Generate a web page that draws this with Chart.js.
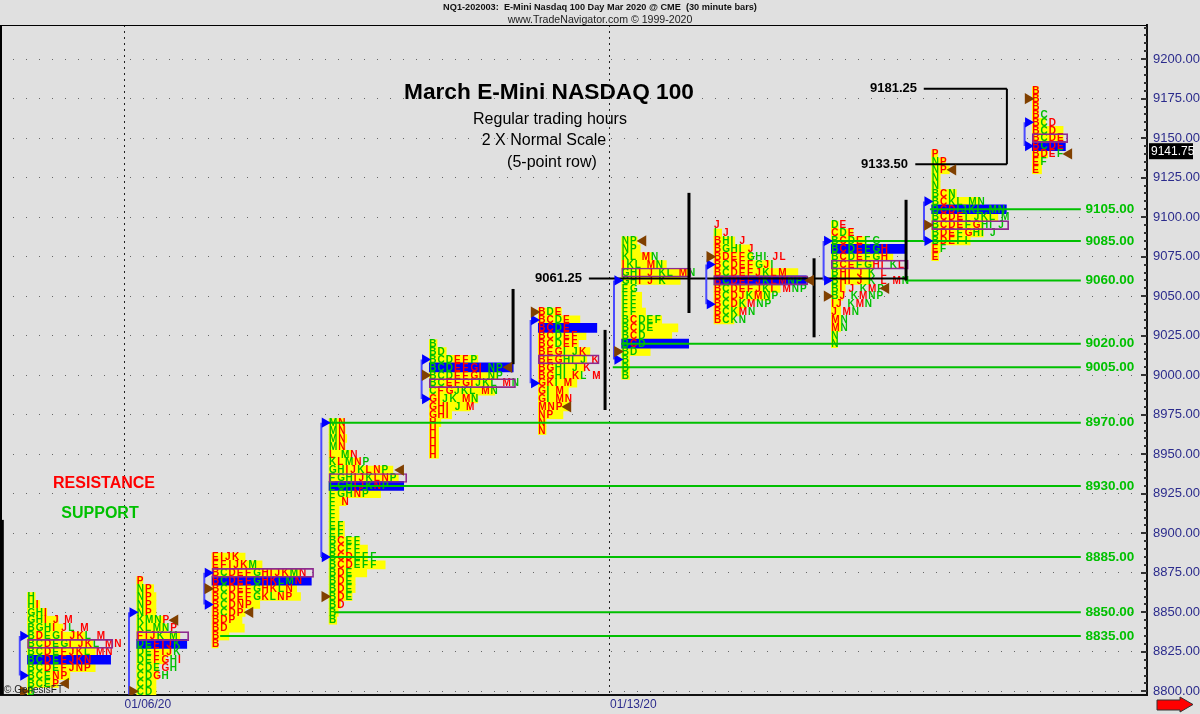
<!DOCTYPE html>
<html>
<head>
<meta charset="utf-8">
<title>March E-Mini NASDAQ 100</title>
<script src="https://cdn.jsdelivr.net/npm/chart.js@4"></script>
<style>
  html, body { margin: 0; padding: 0; background: #e0e0e0; }
  canvas { display: block; }
</style>
</head>
<body>
<canvas id="chart" width="1200" height="714"></canvas>
<script>
// x axis runs in profile columns, y axis in index points
const priceTicks = [8800, 8825, 8850, 8875, 8900, 8925, 8950, 8975, 9000, 9025, 9050, 9075, 9100, 9125, 9150, 9175, 9200];
const dateCols = [16.17, 79.24];
const dateLabels = ['01/06/20', '01/13/20'];

const sessionCols = [3.57, 17.76, 27.54, 42.74, 55.77, 69.93, 80.76, 92.75, 107.99, 121.03, 134.1];
const sessionTops = [8860, 8870, 8885, 8970, 9020, 9040, 9085, 9095, 9095, 9140, 9180];
const sessionRed = ['DFIJKMNP', 'FGIJP', 'BDEFHIJKNP', 'CDIJLN', 'EFGHIM', 'BCEFGKMNP', 'CIJM', 'BDEFJLM', 'CEHIJLM', 'CDEGP', 'BDE'];

const rows0 = ['H', 'HI', 'GHI', 'GHI J M', 'BGHI JL M', 'BDEGI JKL M', 'BCDEGI JKL MN', 'BCDEFJKL MN', 'BCDEFJKN', 'BCDEFJNP', 'BCENP', 'BCEP', 'B'];
const fill0 = [1, 1.6, 2.5, 4, 4.6, 7.5, 8.5, 8.8, 9, 8.8, 5.5, 4, 0.5];
const rows1 = ['P', 'NP', 'NP', 'NP', 'NP', 'KMNP', 'KLMNP', 'FIJK M', 'DEFIJK', 'DEFIJK', 'DEFGHI', 'CDEGH', 'CDGH', 'CD', 'CD'];
const fill1 = [0.8, 2.2, 2.5, 2.5, 2.5, 3.5, 3.9, 5.6, 5.5, 4.5, 3.7, 2.8, 2.8, 2.5, 2.5];
const rows2 = ['EIJK', 'EFIJKM', 'BCDEFGHIJKMN', 'BCDEFGHKLMN', 'BCDEFGHKLN', 'BCDEFGKLNP', 'BCDNP', 'BCDP', 'BDP', 'BD', 'B', 'B'];
const fill2 = [4.3, 6.5, 11.4, 11, 11, 11.5, 6.2, 4.3, 3.9, 4.2, 2.2, 0.8];
const rows3 = ['MN', 'MN', 'MN', 'MN', 'L MN', 'KLMNP', 'GHIJKLNP', 'FGHIJKLNP', 'FGHIJKNP', 'FGHNP', 'F N', 'F', 'F', 'EF', 'EF', 'BCEF', 'BCFF', 'BCDEFF', 'BCDEFF', 'BDE', 'BDE', 'BDE', 'BDE', 'BD', 'B', 'B'];
const fill3 = [2, 2.1, 2.3, 2.1, 2.9, 4, 8.3, 9, 9, 6.7, 2.2, 1.3, 1.3, 2, 2, 4, 5, 5, 7.3, 4.9, 3.4, 3.4, 3, 1.5, 1.2, 1];
const rows4 = ['B', 'BD', 'BCDEFP', 'BCDEFGI NP', 'BCDEFGI NP', 'BCEFGIJKL MN', 'CFGJKL MN', 'GIJK MN', 'GHI J M', 'GHI', 'H', 'H', 'H', 'H', 'H'];
const fill4 = [1, 2.2, 6.3, 8.8, 8.8, 8, 8.5, 6.3, 5.3, 2.9, 1.5, 1.2, 1.2, 1.2, 1.2];
const rows5 = ['BDE', 'BCDE', 'BCDE', 'BCDEF', 'BCDEF', 'BEGI JK', 'BEGHI J K', 'BGHI J K', 'BGHI KL M', 'GKI M', 'GI M', 'GI MN', 'MNP', 'NP', 'N', 'N'];
const fill5 = [3, 5.4, 5.4, 6.2, 5.2, 6.7, 6.3, 6, 5.6, 5, 3.9, 3.9, 4, 3.2, 1, 1];
const rows6 = ['NP', 'NP', 'KL MN', 'IKL MN', 'GHI J KL MN', 'GHI J K', 'FG', 'FF', 'FF', 'FF', 'BCDEF', 'BCDE', 'BCD', 'BCD', 'BD', 'B', 'B', 'B'];
const fill6 = [2, 2.4, 4, 5.8, 8.9, 7.6, 1.7, 2.6, 2.6, 3.1, 5.2, 7.3, 6.5, 6.5, 3.7, 1, 1, 1];
const rows7 = ['J', 'I J', 'BHI J', 'BGHI J', 'BDEFGHI JL', 'BCDEFGJI', 'BCDEFJKLM', 'BCDEFJKLMNP', 'BCDEFJKL MNP', 'BCDJKMNP', 'BCDKMNP', 'BCKMN', 'BCKN'];
const fill7 = [0, 1, 2.7, 4.7, 5, 7.3, 10.9, 10.9, 8.6, 7.3, 4.2, 3.4, 2.6];
const rows8 = ['DE', 'CDE', 'BCDEFG', 'BCDEFGH', 'BCDEFGH', 'BCEFGHI KL', 'BHI J K L', 'BHI J K L MN', 'BI J KMP', 'BJ KMNP', 'IJ KMN', 'J MN', 'MN', 'MN', 'N', 'N'];
const fill8 = [0.9, 2.8, 4.4, 8, 8, 5.4, 5.2, 5, 1.8, 1.5, 1.2, 1.2, 1.2, 1.2, 0.8, 0.8];
const rows9 = ['P', 'NP', 'NP', 'N', 'N', 'BCN', 'BCKL MN', 'BCDIJKL MN', 'BCDEI JKL M', 'BCDEFGHI J', 'BDEFGHI J', 'BDEFI', 'EF', 'E'];
const fill9 = [0.8, 1.8, 2.3, 1.1, 1.1, 3.2, 6.3, 8, 8.6, 6.7, 6.7, 5, 1.1, 0.9];
const rows10 = ['B', 'B', 'B', 'BC', 'BCD', 'BCD', 'BCDE', 'BCDE', 'BDEF', 'EF', 'E'];
const fill10 = [0.8, 0.8, 0.8, 0.8, 1.7, 4, 4, 4, 2, 1.2, 1.2];
const sessionRows = [rows0, rows1, rows2, rows3, rows4, rows5, rows6, rows7, rows8, rows9, rows10];
const sessionFill = [fill0, fill1, fill2, fill3, fill4, fill5, fill6, fill7, fill8, fill9, fill10];

const pocPrices = [8820, 8830, 8870, 8930, 9005, 9030, 9020, 9060, 9080, 9105, 9145];
const pocWidths = [10.8, 6.5, 12.9, 9.7, 10.9, 7.6, 8.7, 12, 9.7, 9.7, 4.3];
const boxPrices = [8830, 8835, 8875, 8935, 8995, 9010, 9065, 9060, 9070, 9095, 9150];
const boxWidths = [11.1, 6.75, 13.2, 10.1, 11.2, 7.9, 9, 12.2, 10, 10, 4.6];
const vaHigh = [8835, 8850, 8875, 8970, 9010, 9035, 9060, 9070, 9085, 9110, 9160];
const vaLow = [8810, 8798, 8855, 8885, 8985, 8995, 9010, 9045, 9060, 9085, 9145];

// brown markers, left side of a profile and right side of it
const openPrices = [8800, 8800, 8865, 8860, 9000, 9040, 9015, 9075, 9050, 9095, 9175];
const closePrices = [8805, 8845, 8850, 8940, 9005, 8980, 9085, 9060, 9055, 9130, 9140];
const closeCols = [8.53, 22.73, 32.48, 52.05, 66.12, 73.78, 83.53, 105.31, 115.09, 123.79, 138.85];

const supportPrices = [8835, 8850, 8885, 8930, 8970, 9005, 9020, 9060, 9085, 9105];
const supportStart = [28.6, 43.5, 41.7, 42.9, 42.5, 79.6, 80.7, 117.7, 108, 120.8];
const supportEnd = 140.4;
const rangeCols = [0.3, 66.65, 78.6, 89.5, 105.75, 117.7];
const rangeHigh = [8908.5, 9054.6, 9028.7, 9115.4, 9074, 9111];
const rangeLow = [8797.7, 9007, 8978, 9039.4, 9024, 9060];
const lastPrice = 9141.75;

const letterWidth = { I: 0.62, J: 0.92, L: 1.0, M: 1.2, ' ': 0.55 };
const RED = '#ff0000';
const GREEN = '#00c000';
const FONT = '"Liberation Sans", Arial, sans-serif';

const yellowBars = [];
const letters = [];
sessionRows.forEach((rows, s) => {
  rows.forEach((row, r) => {
    const price = sessionTops[s] - r * 5;
    if (sessionFill[s][r] > 0) {
      yellowBars.push({ x: [sessionCols[s], sessionCols[s] + sessionFill[s][r]], y: price });
    }
    let col = sessionCols[s];
    for (const ch of row) {
      if (ch !== ' ') {
        letters.push({ x: col, y: price, t: ch, c: sessionRed[s].includes(ch) ? RED : GREEN });
      }
      col += letterWidth[ch] || 1.07;
    }
  });
});

function rowBars(prices, widths) {
  return prices.map((p, s) => ({ x: [sessionCols[s], sessionCols[s] + widths[s]], y: p }));
}

function segment(x0, y0, x1, y1, color, width, order) {
  return {
    type: 'scatter', showLine: true, order: order, pointRadius: 0,
    borderColor: color, borderWidth: width,
    data: [{ x: x0, y: y0 }, { x: x1, y: y1 }],
  };
}

const datasets = [
  {
    type: 'bar', indexAxis: 'y', grouped: false, order: 9, barThickness: 8,
    backgroundColor: '#ffff00', data: yellowBars,
  },
  {
    type: 'bar', indexAxis: 'y', grouped: false, order: 8, barThickness: 9,
    backgroundColor: '#0000ff', data: rowBars(pocPrices, pocWidths),
  },
  { id: 'letters', type: 'scatter', order: 7, pointRadius: 0, data: letters },
  {
    type: 'bar', indexAxis: 'y', grouped: false, order: 6, barThickness: 9,
    backgroundColor: 'rgba(0,0,0,0)', borderColor: '#8e2a8e', borderWidth: 1, borderSkipped: false,
    data: rowBars(boxPrices, boxWidths),
  },
];

supportPrices.forEach((p, i) => {
  datasets.push(segment(supportStart[i], p, supportEnd, p, '#00c000', 2, 5));
});
rangeCols.forEach((c, i) => {
  datasets.push(segment(c, rangeLow[i], c, rangeHigh[i], '#000000', 3, 4));
});
datasets.push(segment(76.5, 9061.25, 117.8, 9061.25, '#000000', 2, 4));
datasets.push(segment(120, 9181.25, 130.8, 9181.25, '#000000', 2, 4));
datasets.push(segment(118.9, 9133.5, 130.8, 9133.5, '#000000', 2, 4));
datasets.push(segment(130.8, 9181.25, 130.8, 9133.5, '#000000', 2, 4));
sessionCols.forEach((c, i) => {
  datasets.push(segment(c - 1, vaHigh[i], c - 1, vaLow[i], '#4a4aff', 2, 3));
});
datasets.push({
  type: 'scatter', order: 2, pointStyle: 'triangle', pointRotation: 90, pointRadius: 6,
  pointBackgroundColor: '#0000ff', pointBorderWidth: 0,
  data: vaHigh.map((p, i) => ({ x: sessionCols[i] - 0.55, y: p }))
    .concat(vaLow.map((p, i) => ({ x: sessionCols[i] - 0.55, y: p })).filter((d, i) => i !== 1)),
});
datasets.push({
  type: 'scatter', order: 1, pointStyle: 'triangle', pointRotation: 90, pointRadius: 6.5,
  pointBackgroundColor: '#804000', pointBorderWidth: 0,
  data: openPrices.map((p, i) => ({ x: sessionCols[i] - 0.55, y: p })),
});
datasets.push({
  type: 'scatter', order: 1, pointStyle: 'triangle', pointRotation: -90, pointRadius: 6.5,
  pointBackgroundColor: '#804000', pointBorderWidth: 0,
  data: closePrices.map((p, i) => ({ x: closeCols[i], y: p })),
});

function text(ctx, str, x, y, font, color, align) {
  ctx.font = font;
  ctx.fillStyle = color;
  ctx.textAlign = align || 'left';
  ctx.textBaseline = 'middle';
  ctx.fillText(str, x, y);
}

const profilePlugin = {
  id: 'profile',
  beforeDraw(chart) {
    const { ctx, width, height } = chart;
    ctx.save();
    ctx.fillStyle = '#e0e0e0';
    ctx.fillRect(0, 0, width, height);
    ctx.restore();
  },
  afterDatasetDraw(chart, args) {
    if (chart.data.datasets[args.index].id !== 'letters') return;
    const ctx = chart.ctx;
    ctx.save();
    args.meta.data.forEach((pt, i) => {
      const d = letters[i];
      text(ctx, d.t, pt.x, pt.y + 0.5, 'bold 10px ' + FONT, d.c);
    });
    ctx.restore();
  },
  afterDraw(chart) {
    const { ctx, chartArea, scales } = chart;
    const y = scales.y;
    const x = scales.x;
    ctx.save();

    // frame
    ctx.fillStyle = '#000000';
    ctx.fillRect(0, 25, chartArea.right, 1);
    ctx.fillRect(0, 25, 2, chartArea.bottom - 25);

    // ticks sit inside the plot on the price axis
    ctx.fillStyle = '#333333';
    for (let p = 8800; p <= 9220; p += 5) {
      const len = p % 25 === 0 ? 6 : 3;
      ctx.fillRect(chartArea.right - len, Math.round(y.getPixelForValue(p)) - 1, len, 2);
    }

    // support and resistance labels
    supportPrices.forEach((p) => {
      text(ctx, p.toFixed(2), x.getPixelForValue(141), y.getPixelForValue(p), 'bold 13.5px ' + FONT, '#00c000');
    });
    text(ctx, '9181.25', 870, y.getPixelForValue(9181.25), 'bold 13px ' + FONT, '#000000');
    text(ctx, '9133.50', 861, y.getPixelForValue(9133.5), 'bold 13px ' + FONT, '#000000');
    text(ctx, '9061.25', 535, y.getPixelForValue(9061.25), 'bold 13px ' + FONT, '#000000');

    // header and notes
    text(ctx, 'NQ1-202003:  E-Mini Nasdaq 100 Day Mar 2020 @ CME  (30 minute bars)', 600, 7, 'bold 9.2px ' + FONT, '#111111', 'center');
    text(ctx, 'www.TradeNavigator.com © 1999-2020', 600, 20, '10.6px ' + FONT, '#222222', 'center');
    text(ctx, 'March E-Mini NASDAQ 100', 549, 93, 'bold 22.7px ' + FONT, '#000000', 'center');
    text(ctx, 'Regular trading hours', 550, 120, '16px ' + FONT, '#000000', 'center');
    text(ctx, '2 X Normal Scale', 544, 141, '16px ' + FONT, '#000000', 'center');
    text(ctx, '(5-point row)', 552, 163, '16px ' + FONT, '#000000', 'center');
    text(ctx, 'RESISTANCE', 104, 484, 'bold 16px ' + FONT, '#ff0000', 'center');
    text(ctx, 'SUPPORT', 100, 514, 'bold 16px ' + FONT, '#00c000', 'center');
    text(ctx, '© GenesisFT', 4, 690, '10px ' + FONT, '#222222');

    // last price flag
    const ly = y.getPixelForValue(lastPrice);
    ctx.fillStyle = '#000000';
    ctx.fillRect(1149, ly - 8, 44, 16);
    text(ctx, lastPrice.toFixed(2), 1151, ly, '12px ' + FONT, '#ffffff');

    // scroll arrow
    ctx.beginPath();
    ctx.moveTo(1157, 700);
    ctx.lineTo(1180, 700);
    ctx.lineTo(1180, 697);
    ctx.lineTo(1193, 704.5);
    ctx.lineTo(1180, 712);
    ctx.lineTo(1180, 710);
    ctx.lineTo(1157, 710);
    ctx.closePath();
    ctx.fillStyle = '#ff0000';
    ctx.fill();
    ctx.strokeStyle = '#333333';
    ctx.lineWidth = 1;
    ctx.stroke();
    ctx.restore();
  },
};

new Chart(document.getElementById('chart'), {
  type: 'scatter',
  data: { datasets: datasets },
  plugins: [profilePlugin],
  options: {
    responsive: false,
    animation: false,
    events: [],
    layout: { autoPadding: false, padding: { top: 25, left: 0, right: 0, bottom: 0 } },
    plugins: { legend: { display: false }, tooltip: { enabled: false } },
    scales: {
      x: {
        type: 'linear', min: 0, max: 149, offset: false,
        afterBuildTicks: (scale) => { scale.ticks = dateCols.map((v) => ({ value: v })); },
        afterFit: (scale) => {
          scale.height = 19;
          scale.paddingLeft = 0;
          scale.paddingRight = 0;
        },
        ticks: {
          autoSkip: false, maxRotation: 0, align: 'start', padding: 2,
          color: '#2b2b8c', font: { family: FONT, size: 12 },
          callback: (v) => dateLabels[dateCols.indexOf(v)],
        },
        grid: { color: '#222222', lineWidth: 1, drawTicks: false, offset: false },
        border: { color: '#111111', width: 2, dash: [2, 4] },
      },
      y: {
        type: 'linear', position: 'right', min: 8797.7, max: 9221.6, offset: false,
        afterBuildTicks: (scale) => { scale.ticks = priceTicks.map((v) => ({ value: v })); },
        afterFit: (scale) => { scale.width = 53; },
        ticks: {
          autoSkip: false, padding: 6, color: '#2b2b8c', font: { family: FONT, size: 13 },
          callback: (v) => v.toFixed(2),
        },
        grid: { color: '#666666', lineWidth: 1, drawTicks: false, offset: false },
        border: { color: '#111111', width: 2, dash: [1, 12] },
      },
    },
  },
});
</script>
</body>
</html>
